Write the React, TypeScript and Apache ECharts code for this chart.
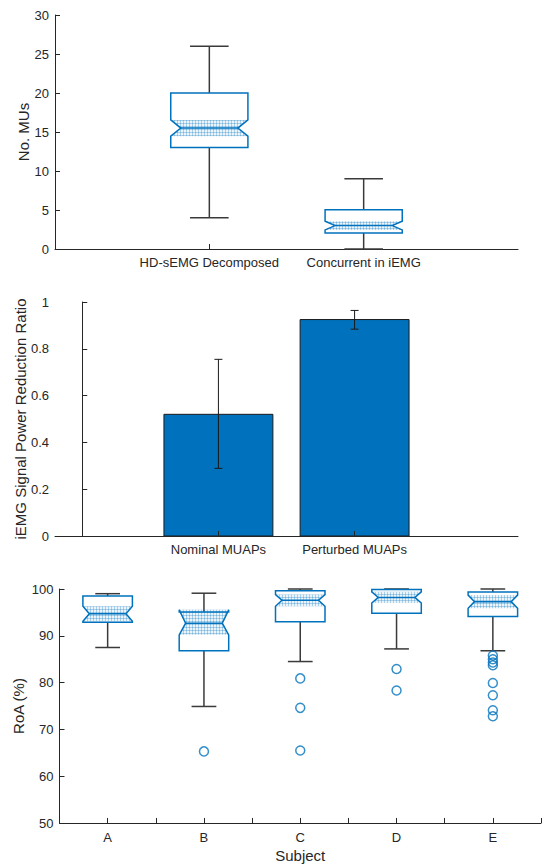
import React, { useEffect, useRef } from "react";
import * as echarts from "echarts";

// ---------- Panel 1: number of MUs ----------
const muCategories = ["HD-sEMG Decomposed", "Concurrent in iEMG"];
const muPositions = [1, 2];
// [min, q1, median, q3, max, notchLow, notchHigh]
const muBoxes = [
  [4, 13, 15.5, 20, 26, 14.47, 16.55],
  [0, 2.05, 3, 5.03, 9, 2.45, 3.55],
];

// ---------- Panel 2: power reduction ratio ----------
const powerCategories = ["Nominal MUAPs", "Perturbed MUAPs"];
const powerPositions = [1, 2];
const powerMeans = [0.52, 0.925];
const powerLow = [0.289, 0.884];
const powerHigh = [0.755, 0.964];

// ---------- Panel 3: RoA per subject ----------
const subjects = ["A", "B", "C", "D", "E"];
const subjectPositions = [1, 2, 3, 4, 5];
// [min, q1, median, q3, max, notchLow, notchHigh]
const roaBoxes = [
  [87.5, 92.9, 94.7, 98.5, 99.0, 93.1, 96.3],
  [74.9, 86.8, 92.7, 95.1, 99.1, 90.2, 95.55],
  [84.5, 93.0, 97.6, 99.6, 100, 96.3, 98.8],
  [87.2, 94.8, 98.2, 99.9, 100, 97.0, 99.4],
  [86.8, 94.15, 97.3, 99.35, 100, 95.9, 98.7],
];
const roaOutliers = [
  [],
  [65.3],
  [80.9, 74.6, 65.5],
  [82.9, 78.3],
  [85.8, 85.0, 84.3, 83.7, 79.9, 77.3, 74.1, 72.8],
];
const roaTickValues = [1, 1.5, 2, 2.5, 3, 3.5, 4, 4.5, 5, 5.5];

const BLUE = "#0072BD";
const DARK = "#262626";
const WHISK = "#3a3a3a";
const FONT = "Liberation Sans, Arial, Helvetica, sans-serif";

function makeHatch(): any {
  try {
    const c = document.createElement("canvas");
    c.width = 3;
    c.height = 3;
    const ctx = c.getContext("2d");
    if (!ctx) return "rgba(0,114,189,0.2)";
    ctx.fillStyle = "rgba(0,114,189,0.08)";
    ctx.fillRect(0, 0, 3, 3);
    ctx.fillStyle = "rgba(0,114,189,0.28)";
    ctx.fillRect(0, 0, 3, 1);
    ctx.fillRect(0, 0, 1, 3);
    return { image: c, repeat: "repeat" };
  } catch (e) {
    return "rgba(0,114,189,0.2)";
  }
}

function makeBoxRender(halfW: number, innerRatio: number, fill: any) {
  return (params: any, api: any) => {
    const x = api.value(0);
    const mn = api.value(1);
    const q1 = api.value(2);
    const md = api.value(3);
    const q3 = api.value(4);
    const mx = api.value(5);
    const nl = api.value(6);
    const nh = api.value(7);
    const P = (dx: number, v: number) => api.coord([x + dx, v]);
    const hw = halfW;
    const iw = halfW * innerRatio;
    const cw = halfW * 0.5;
    const line = (a: number[], b: number[], color: string, w: number) => ({
      type: "line",
      shape: { x1: a[0], y1: a[1], x2: b[0], y2: b[1] },
      style: { stroke: color, lineWidth: w, fill: "none" },
    });
    return {
      type: "group",
      children: [
        line(P(0, q3), P(0, mx), WHISK, 1.5),
        line(P(0, q1), P(0, mn), WHISK, 1.5),
        line(P(-cw, mx), P(cw, mx), WHISK, 1.5),
        line(P(-cw, mn), P(cw, mn), WHISK, 1.5),
        {
          type: "polygon",
          shape: {
            points: [P(-hw, nl), P(-iw, md), P(-hw, nh), P(hw, nh), P(iw, md), P(hw, nl)],
          },
          style: { fill, stroke: "none" },
        },
        {
          type: "polygon",
          shape: {
            points: [
              P(-hw, q1), P(-hw, nl), P(-iw, md), P(-hw, nh), P(-hw, q3),
              P(hw, q3), P(hw, nh), P(iw, md), P(hw, nl), P(hw, q1),
            ],
          },
          style: { fill: "none", stroke: BLUE, lineWidth: 1.5 },
        },
        line(P(-iw, md), P(iw, md), BLUE, 1.5),
      ],
    };
  };
}

function renderBar(params: any, api: any) {
  const x = api.value(0);
  const v = api.value(1);
  const lo = api.value(2);
  const hi = api.value(3);
  const tl = api.coord([x - 0.4, v]);
  const br = api.coord([x + 0.4, 0]);
  const a = api.coord([x, lo]);
  const b = api.coord([x, hi]);
  const cap = 4;
  const ln = (x1: number, y1: number, x2: number, y2: number) => ({
    type: "line",
    shape: { x1, y1, x2, y2 },
    style: { stroke: "#1a1a1a", lineWidth: 1 },
  });
  return {
    type: "group",
    children: [
      {
        type: "rect",
        shape: { x: tl[0], y: tl[1], width: br[0] - tl[0], height: br[1] - tl[1] },
        style: { fill: BLUE, stroke: "#1a1a1a", lineWidth: 1 },
      },
      ln(a[0], a[1], b[0], b[1]),
      ln(a[0] - cap, a[1], a[0] + cap, a[1]),
      ln(b[0] - cap, b[1], b[0] + cap, b[1]),
    ],
  };
}

const axisLine = { show: true, lineStyle: { color: DARK, width: 1 } };
const tickLabel = { color: DARK, fontSize: 13, fontFamily: FONT };
const nameStyle = { color: DARK, fontSize: 15, fontFamily: FONT };

export default function App() {
  const ref = useRef<HTMLDivElement>(null);
  useEffect(() => {
    if (!ref.current) return;
    const chart = echarts.init(ref.current, null, { renderer: "svg" });
    const hatch = makeHatch();
    const option: any = {
      animation: false,
      backgroundColor: "#ffffff",
      textStyle: { fontFamily: FONT },
      grid: [
        { left: 55, top: 15, width: 463, height: 234 },
        { left: 55, top: 302, width: 463, height: 234 },
        { left: 59.5, top: 589, width: 481.5, height: 234 },
      ],
      xAxis: [
        {
          gridIndex: 0, type: "value", min: 0, max: 3,
          axisLine,
          axisTick: { show: true, inside: true, length: 5, customValues: muPositions, lineStyle: { color: DARK } },
          axisLabel: { ...tickLabel, margin: 7, customValues: muPositions, formatter: (v: number) => muCategories[Math.round(v) - 1] ?? "" },
          splitLine: { show: false },
        },
        {
          gridIndex: 1, type: "value", min: -0.2, max: 3.2, z: 5,
          axisLine,
          axisTick: { show: true, inside: true, length: 5, customValues: powerPositions, lineStyle: { color: DARK } },
          axisLabel: { ...tickLabel, margin: 7, customValues: powerPositions, formatter: (v: number) => powerCategories[Math.round(v) - 1] ?? "" },
          splitLine: { show: false },
        },
        {
          gridIndex: 2, type: "value", min: 0.5, max: 5.5,
          axisLine,
          axisTick: { show: true, inside: true, length: 5, customValues: roaTickValues, lineStyle: { color: DARK } },
          axisLabel: { ...tickLabel, margin: 8, customValues: subjectPositions, formatter: (v: number) => subjects[Math.round(v) - 1] ?? "" },
          splitLine: { show: false },
          name: "Subject", nameLocation: "middle", nameGap: 25, nameMoveOverlap: false, nameTextStyle: nameStyle,
        },
      ],
      yAxis: [
        {
          gridIndex: 0, type: "value", min: 0, max: 30, interval: 5,
          axisLine,
          axisTick: { show: true, inside: true, length: 5, lineStyle: { color: DARK } },
          axisLabel: { ...tickLabel, margin: 6 },
          splitLine: { show: false },
          name: "No. MUs", nameLocation: "middle", nameGap: 24, nameMoveOverlap: false, nameTextStyle: nameStyle,
        },
        {
          gridIndex: 1, type: "value", min: 0, max: 1, interval: 0.2,
          axisLine,
          axisTick: { show: true, inside: true, length: 5, lineStyle: { color: DARK } },
          axisLabel: { ...tickLabel, margin: 6 },
          splitLine: { show: false },
          name: "iEMG Signal Power Reduction Ratio", nameLocation: "middle", nameGap: 27.5, nameMoveOverlap: false, nameTextStyle: nameStyle,
        },
        {
          gridIndex: 2, type: "value", min: 50, max: 100, interval: 10,
          axisLine,
          axisTick: { show: true, inside: true, length: 5, lineStyle: { color: DARK } },
          axisLabel: { ...tickLabel, margin: 6 },
          splitLine: { show: false },
          name: "RoA (%)", nameLocation: "middle", nameGap: 34, nameMoveOverlap: false, nameTextStyle: nameStyle,
        },
      ],
      series: [
        {
          type: "custom", xAxisIndex: 0, yAxisIndex: 0, silent: true,
          renderItem: makeBoxRender(0.25, 0.74, hatch),
          encode: { x: 0, y: [1, 2, 3, 4, 5] },
          data: muBoxes.map((b, i) => [muPositions[i], ...b]),
        },
        {
          type: "custom", xAxisIndex: 1, yAxisIndex: 1, silent: true,
          renderItem: renderBar,
          encode: { x: 0, y: [1, 2, 3] },
          data: powerMeans.map((m, i) => [powerPositions[i], m, powerLow[i], powerHigh[i]]),
        },
        {
          type: "custom", xAxisIndex: 2, yAxisIndex: 2, silent: true,
          renderItem: makeBoxRender(0.257, 0.74, hatch),
          encode: { x: 0, y: [1, 2, 3, 4, 5] },
          data: roaBoxes.map((b, i) => [subjectPositions[i], ...b]),
        },
        {
          type: "scatter", xAxisIndex: 2, yAxisIndex: 2, silent: true,
          symbol: "circle", symbolSize: 9,
          itemStyle: { color: "rgba(0,0,0,0)", borderColor: BLUE, borderWidth: 1.5 },
          data: roaOutliers.flatMap((arr, i) => arr.map((v) => [subjectPositions[i], v])),
        },
      ],
    };
    chart.setOption(option);
    return () => chart.dispose();
  }, []);
  return (
    <div
      ref={ref}
      style={{ position: "absolute", left: 0, top: 0, width: 542, height: 865, background: "#fff" }}
    />
  );
}
